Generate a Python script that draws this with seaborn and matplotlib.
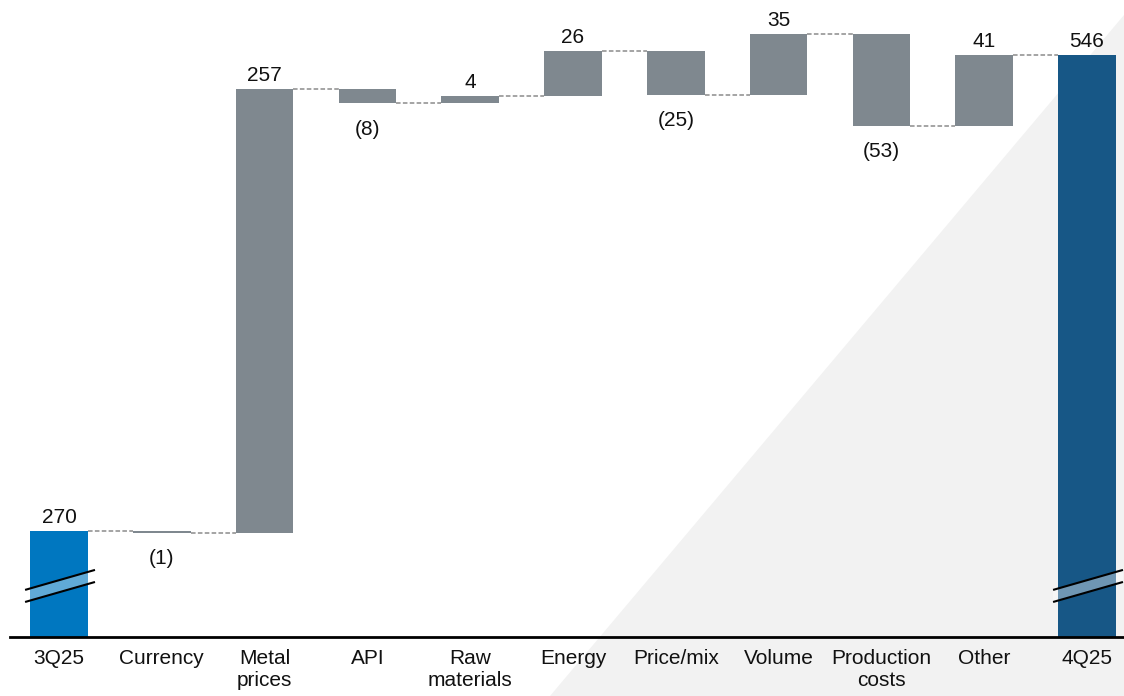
import numpy as np
import matplotlib
matplotlib.use("Agg")
import matplotlib.pyplot as plt
from matplotlib.patches import Polygon
import seaborn as sns

sns.set_theme(style="white")
plt.rcParams["font.family"] = ["Liberation Sans", "DejaVu Sans"]

# data
categories = ["3Q25", "Currency", "Metal\nprices", "API", "Raw\nmaterials", "Energy",
              "Price/mix", "Volume", "Production\ncosts", "Other", "4Q25"]
start_value = 270
changes = [-1, 257, -8, 4, 26, -25, 35, -53, 41]
end_value = 546

BLUE_START = "#0077C0"
BLUE_END = "#175786"
GREY = "#7F888F"

# running totals -> floating bars
levels = [start_value]
for c in changes:
    levels.append(levels[-1] + c)
bottoms = [0]
heights = [start_value]
for i, c in enumerate(changes):
    bottoms.append(min(levels[i], levels[i + 1]))
    heights.append(abs(c))
bottoms.append(0)
heights.append(end_value)
colors = [BLUE_START] + [GREY] * len(changes) + [BLUE_END]

fig = plt.figure(figsize=(11.24, 6.96), dpi=100)
fig.patch.set_facecolor("white")

# light grey triangle in the background
tri = Polygon([(550 / 1124, 0), (1.0, 0), (1.0, 1 - 15 / 696)], closed=True,
              transform=fig.transFigure, facecolor="#F2F2F2", edgecolor="none", zorder=-5)
fig.patches.append(tri)

ax = fig.add_axes([10 / 1124, 59 / 696, 1114 / 1124, 637 / 696])
ax.set_facecolor("none")
ax.set_zorder(1)

bw = 0.56
sns.barplot(x=categories, y=heights, bottom=bottoms, width=bw, color=GREY,
            saturation=1, ax=ax, zorder=2)
for p, col in zip(ax.patches, colors):
    p.set_facecolor(col)
    p.set_edgecolor("none")

ax.set_xlim(-0.4767, 10.36)
ax.set_ylim(208.5, 577.8)

# connectors
for i in range(len(categories) - 1):
    y = levels[i]
    ax.plot([i + bw / 2, i + 1 - bw / 2], [y, y], color="#8C8C8C", lw=1.1,
            linestyle=(0, (3, 1.5)), zorder=1)

# value labels
label_kw = dict(ha="center", fontsize=15, color="#111111", textcoords="offset points")
ax.annotate(f"{start_value}", (0, start_value), xytext=(0, 3), va="bottom", **label_kw)
for i, c in enumerate(changes, start=1):
    if c >= 0:
        ax.annotate(f"{c}", (i, bottoms[i] + heights[i]), xytext=(0, 3), va="bottom", **label_kw)
    else:
        ax.annotate(f"({abs(c)})", (i, bottoms[i]), xytext=(0, -12), va="top", **label_kw)
ax.annotate(f"{end_value}", (10, end_value), xytext=(0, 3), va="bottom", **label_kw)

# axis break marks on the first and last bar
for xc in [0, 10]:
    x0, x1 = xc - 0.33, xc + 0.35
    upper = [235.8, 247.4]
    lower = [228.8, 240.4]
    band = Polygon([(x0, lower[0]), (x1, lower[1]), (x1, upper[1]), (x0, upper[0])],
                   closed=True, facecolor="white", alpha=0.38, edgecolor="none", zorder=3)
    ax.add_patch(band)
    ax.plot([x0, x1], upper, color="black", lw=1.5, zorder=4, solid_capstyle="butt")
    ax.plot([x0, x1], lower, color="black", lw=1.5, zorder=4, solid_capstyle="butt")

for s in ["top", "left", "right"]:
    ax.spines[s].set_visible(False)
ax.spines["bottom"].set_color("black")
ax.spines["bottom"].set_linewidth(2)
ax.spines["bottom"].set_zorder(5)
ax.set_yticks([])
ax.tick_params(axis="x", length=0, pad=9, labelsize=15, labelcolor="#111111")
ax.set_xlabel("")
ax.set_ylabel("")

fig.savefig("out.png", dpi=100)
